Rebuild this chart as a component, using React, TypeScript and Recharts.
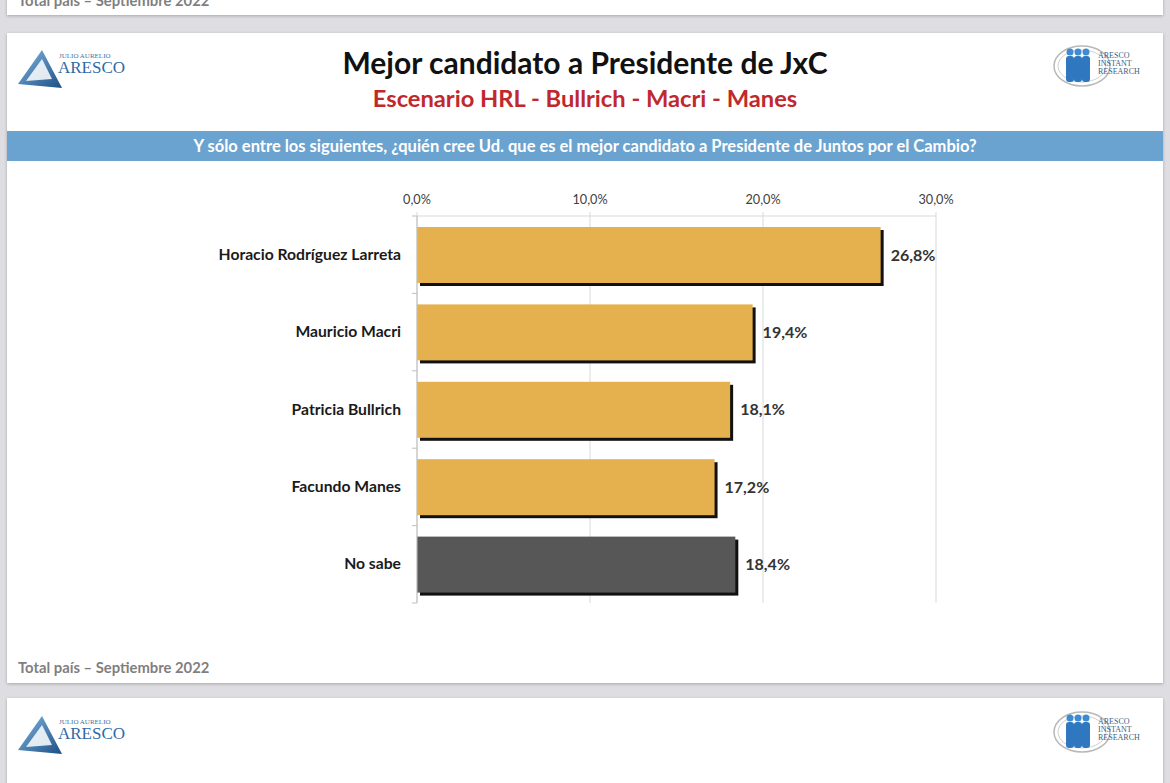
import React from 'react';
import {
  BarChart,
  Bar,
  XAxis,
  YAxis,
  CartesianGrid,
  LabelList,
  Cell,
} from 'recharts';

const candidates = [
  'Horacio Rodríguez Larreta',
  'Mauricio Macri',
  'Patricia Bullrich',
  'Facundo Manes',
  'No sabe',
];
const shares = [26.8, 19.4, 18.1, 17.2, 18.4];
const barColors = ['#E5B04E', '#E5B04E', '#E5B04E', '#E5B04E', '#575757'];
const xTicks = [0, 10, 20, 30];

const FONT = 'Lato, "Open Sans", sans-serif';

const chartData = candidates.map((name, i) => ({ name, value: shares[i] }));

const fmtPct = (v: number) => v.toFixed(1).replace('.', ',') + '%';

// bar with the hard black drop shadow used in the slide
const ShadowBar = (props: any) => {
  const { x, y, width, height, fill } = props;
  if (!width || width <= 0) return null;
  return (
    <g>
      <rect x={x + 3} y={y + 3} width={width} height={height} fill="#111" />
      <rect x={x} y={y} width={width} height={height} fill={fill} />
    </g>
  );
};

const CategoryTick = (props: any) => {
  const { x, y, payload, index } = props;
  const half = 77.4 / 2;
  const axisX = x + 16;
  return (
    <g>
      <text
        x={x}
        y={y}
        dy={5}
        textAnchor="end"
        fontFamily={FONT}
        fontWeight={700}
        fontSize={15.7}
        fill="#1a1a1a"
      >
        {payload.value}
      </text>
      <line x1={axisX - 5} x2={axisX} y1={y - half} y2={y - half} stroke="#bfbfbf" />
      {index === candidates.length - 1 && (
        <line x1={axisX - 5} x2={axisX} y1={y + half} y2={y + half} stroke="#bfbfbf" />
      )}
    </g>
  );
};

const AresLogo = ({ left, top }: { left: number; top: number }) => (
  <svg
    width={110}
    height={50}
    style={{ position: 'absolute', left, top }}
  >
    <defs>
      <linearGradient id={`tri${top}`} x1="0" y1="0" x2="1" y2="1">
        <stop offset="0" stopColor="#7fb6e0" />
        <stop offset="1" stopColor="#1d4f86" />
      </linearGradient>
    </defs>
    <polygon points="2,40 26,6 46,44" fill={`url(#tri${top})`} />
    <polygon points="10,37 26,15 36,35" fill="#ffffff" opacity={0.85} />
    <text x={43} y={14} fontFamily="'Liberation Serif', serif" fontSize={7} fill="#4a6f99">
      JULIO AURELIO
    </text>
    <text x={42} y={29} fontFamily="'Liberation Serif', serif" fontSize={17} fill="#2c6aa8">
      ARESCO
    </text>
  </svg>
);

const InstantLogo = ({ left, top }: { left: number; top: number }) => (
  <svg width={95} height={54} style={{ position: 'absolute', left, top }}>
    <ellipse cx={30} cy={26} rx={28} ry={20} fill="none" stroke="#b8b8b8" strokeWidth={1.5} />
    <ellipse cx={30} cy={26} rx={24} ry={16} fill="none" stroke="#d0d0d0" strokeWidth={1} />
    {[18, 26, 34].map((cx) => (
      <g key={cx}>
        <circle cx={cx} cy={12} r={3.5} fill="#3d8bd0" />
        <rect x={cx - 4} y={16} width={8} height={26} rx={3} fill="#2f78c0" />
      </g>
    ))}
    <text fontFamily="'Liberation Serif', serif" fontSize={8} fill="#3a5f8c">
      <tspan x={46} y={18}>ARESCO</tspan>
      <tspan x={46} y={26}>INSTANT</tspan>
      <tspan x={46} y={34}>RESEARCH</tspan>
    </text>
  </svg>
);

export default function App() {
  return (
    <div
      style={{
        position: 'absolute',
        left: 0,
        top: 0,
        width: 1170,
        height: 783,
        background: '#dedee2',
        overflow: 'hidden',
        fontFamily: FONT,
      }}
    >
      {/* previous slide fragment */}
      <div
        style={{
          position: 'absolute',
          left: 7,
          top: -20,
          width: 1156,
          height: 35,
          background: '#fff',
          boxShadow: '0 1px 3px rgba(0,0,0,0.25)',
        }}
      >
        <div
          style={{
            position: 'absolute',
            left: 11,
            top: 11,
            fontSize: 14.8,
            fontWeight: 700,
            color: '#7f7f7f',
          }}
        >
          Total país – Septiembre 2022
        </div>
      </div>

      {/* main slide */}
      <div
        style={{
          position: 'absolute',
          left: 7,
          top: 33,
          width: 1156,
          height: 650,
          background: '#fff',
          boxShadow: '0 1px 3px rgba(0,0,0,0.25)',
        }}
      />
      <AresLogo left={16} top={44} />
      <InstantLogo left={1052} top={40} />
      <div
        style={{
          position: 'absolute',
          left: 0,
          width: 1170,
          top: 44,
          textAlign: 'center',
          fontSize: 30,
          fontWeight: 700,
          color: '#111',
        }}
      >
        Mejor candidato a Presidente de JxC
      </div>
      <div
        style={{
          position: 'absolute',
          left: 0,
          width: 1170,
          top: 84,
          textAlign: 'center',
          fontSize: 23.7,
          fontWeight: 700,
          color: '#C0282D',
        }}
      >
        Escenario HRL - Bullrich - Macri - Manes
      </div>
      <div
        style={{
          position: 'absolute',
          left: 7,
          top: 131,
          width: 1156,
          height: 30,
          background: '#6BA3D0',
          color: '#fff',
          fontSize: 16.5,
          fontWeight: 700,
          textAlign: 'center',
          lineHeight: '30px',
          whiteSpace: 'nowrap',
        }}
      >
        Y sólo entre los siguientes, ¿quién cree Ud. que es el mejor candidato a Presidente de Juntos por el Cambio?
      </div>

      <div style={{ position: 'absolute', left: 0, top: 170 }}>
        <BarChart
          width={1000}
          height={453}
          data={chartData}
          layout="vertical"
          margin={{ top: 26, right: 64, bottom: 20, left: 0 }}
          barSize={56}
        >
          <CartesianGrid horizontal={false} stroke="#d9d9d9" />
          <XAxis
            type="number"
            orientation="top"
            domain={[0, 30]}
            ticks={xTicks}
            tickFormatter={fmtPct}
            height={20}
            axisLine={{ stroke: '#d9d9d9' }}
            tickLine={{ stroke: '#d9d9d9' }}
            tickSize={4}
            tickMargin={8}
            tick={{ fontSize: 12.7, fill: '#404040', fontFamily: FONT }}
          />
          <YAxis
            type="category"
            dataKey="name"
            width={417}
            axisLine={{ stroke: '#bfbfbf' }}
            tickLine={false}
            tickSize={0}
            tickMargin={16}
            tick={<CategoryTick />}
            interval={0}
          />
          <Bar dataKey="value" shape={<ShadowBar />} isAnimationActive={false}>
            {chartData.map((d, i) => (
              <Cell key={d.name} fill={barColors[i]} />
            ))}
            <LabelList
              dataKey="value"
              position="right"
              offset={10}
              formatter={(v: any) => fmtPct(Number(v))}
              style={{
                fontFamily: FONT,
                fontWeight: 700,
                fontSize: 16,
                fill: '#333',
              }}
            />
          </Bar>
        </BarChart>
      </div>

      <div
        style={{
          position: 'absolute',
          left: 18,
          top: 658,
          fontSize: 14.8,
          fontWeight: 700,
          color: '#7f7f7f',
        }}
      >
        Total país – Septiembre 2022
      </div>

      {/* next slide fragment */}
      <div
        style={{
          position: 'absolute',
          left: 7,
          top: 698,
          width: 1156,
          height: 120,
          background: '#fff',
          boxShadow: '0 1px 3px rgba(0,0,0,0.25)',
        }}
      />
      <AresLogo left={16} top={710} />
      <InstantLogo left={1052} top={706} />
    </div>
  );
}
